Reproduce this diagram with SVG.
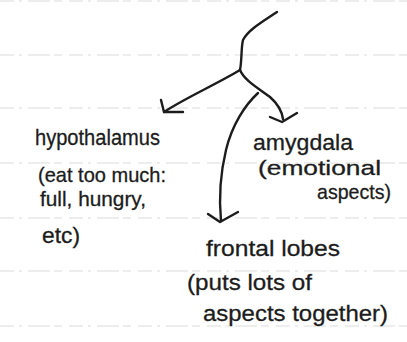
<svg xmlns="http://www.w3.org/2000/svg" width="407" height="342" viewBox="0 0 407 342">
<style>
.rule{stroke:#dcdcdc;stroke-width:1.2;stroke-dasharray:14 5 3 6 22 4 8 7;fill:none}
.ink{stroke:#1c1c1c;stroke-width:2.4;fill:none;stroke-linecap:round;stroke-linejoin:round}
.t{font-family:"Liberation Sans","DejaVu Sans",sans-serif;font-size:22px;fill:#1c1c1c;stroke:#1c1c1c;stroke-width:0.3}
.s{font-size:21px}
</style>
<rect width="407" height="342" fill="#ffffff"/>
<g id="rules">
<path class="rule" d="M0,1H407"/>
<path class="rule" d="M0,55H407"/>
<path class="rule" d="M0,108H407"/>
<path class="rule" d="M0,163H407"/>
<path class="rule" d="M0,218H407"/>
<path class="rule" d="M0,271H407"/>
<path class="rule" d="M0,326H407"/>
</g>
<g id="connectors">
<path class="ink" d="M277,12 C262,22 248,30 243,40 C241,48 242,60 240,70"/>
<path class="ink" d="M240,70 C215,85 185,98 164,112"/>
<path class="ink" d="M161,100 L164,112 L183,112"/>
<path class="ink" d="M240,70 C244,80 258,88 270,97 C278,104 282,112 283,119"/>
<path class="ink" d="M270,117 L282,122 L297,113"/>
<path class="ink" d="M258,93 C245,105 232,125 226,150 C220,175 219,200 221,221"/>
<path class="ink" d="M208,214 L220,222 L238,212"/>
</g>
<g id="hypothalamus">
<text class="t" x="35" y="145" textLength="125" lengthAdjust="spacingAndGlyphs">hypothalamus</text>
<text class="t s" x="38" y="182" textLength="128" lengthAdjust="spacingAndGlyphs">(eat too much:</text>
<text class="t s" x="40" y="206" textLength="106" lengthAdjust="spacingAndGlyphs">full, hungry,</text>
<text class="t" x="42" y="243" textLength="38" lengthAdjust="spacingAndGlyphs">etc)</text>
</g>
<g id="amygdala">
<text class="t" x="253" y="150" textLength="100" lengthAdjust="spacingAndGlyphs">amygdala</text>
<text class="t s" x="258" y="175" textLength="123" lengthAdjust="spacingAndGlyphs">(emotional</text>
<text class="t s" x="317" y="199" textLength="74" lengthAdjust="spacingAndGlyphs">aspects)</text>
</g>
<g id="frontal-lobes">
<text class="t" x="206" y="256" textLength="134" lengthAdjust="spacingAndGlyphs">frontal lobes</text>
<text class="t" x="187" y="290" textLength="125" lengthAdjust="spacingAndGlyphs">(puts lots of</text>
<text class="t" x="203" y="321" textLength="185" lengthAdjust="spacingAndGlyphs">aspects together)</text>
</g>
</svg>
